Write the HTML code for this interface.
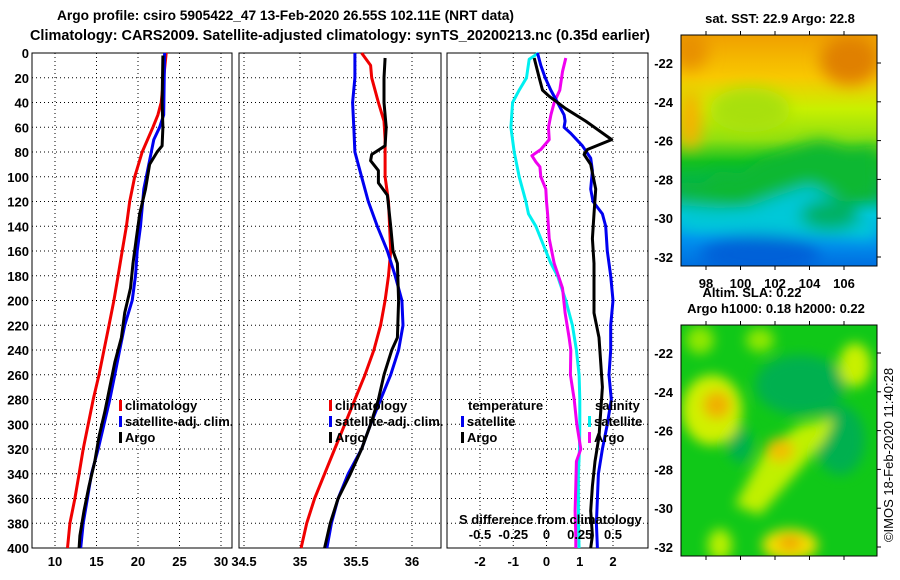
<!DOCTYPE html>
<html><head><meta charset="utf-8">
<style>
html,body{margin:0;padding:0;background:#fff;}
svg{display:block;font-family:"Liberation Sans",sans-serif;}
.b{font-weight:bold;font-size:13px;}
</style></head>
<body>
<svg id="chart" width="900" height="580" viewBox="0 0 900 580">
<defs>
<filter id="blur6" x="-50%" y="-50%" width="200%" height="200%"><feGaussianBlur stdDeviation="6"/></filter>
<filter id="blur9" x="-50%" y="-50%" width="200%" height="200%"><feGaussianBlur stdDeviation="8"/></filter>
<linearGradient id="sstGrad" x1="0" y1="0" x2="0" y2="1">
<stop offset="0" stop-color="#f0a000"/><stop offset="0.18" stop-color="#f8c800"/>
<stop offset="0.32" stop-color="#c8f000"/><stop offset="0.45" stop-color="#90e010"/>
<stop offset="0.55" stop-color="#10c020"/><stop offset="0.68" stop-color="#00b060"/>
<stop offset="0.78" stop-color="#00c8e0"/><stop offset="0.88" stop-color="#0090f0"/>
<stop offset="1" stop-color="#0070e0"/></linearGradient>
<clipPath id="clipM1"><rect x="681" y="35" width="196" height="231"/></clipPath>
<clipPath id="clipM2"><rect x="681" y="325" width="196" height="231"/></clipPath>
</defs>
<text x="57" y="20" textLength="457" lengthAdjust="spacingAndGlyphs" font-size="14" font-weight="bold">Argo profile: csiro 5905422_47 13-Feb-2020 26.55S 102.11E (NRT data)</text>
<text x="30" y="40" textLength="620" lengthAdjust="spacingAndGlyphs" font-size="14.5" font-weight="bold">Climatology: CARS2009. Satellite-adjusted climatology: synTS_20200213.nc (0.35d earlier)</text>
<g id="panels"></g>
<g id="maps">
<text x="780" y="23" text-anchor="middle" class="b">sat. SST: 22.9 Argo: 22.8</text>
<g clip-path="url(#clipM1)">
<rect x="681" y="35" width="196" height="231" fill="url(#sstGrad)"/>
<g filter="url(#blur9)">
<path d="M681 180 L700 185 L720 170 L740 175 L760 160 L790 150 L820 140 L850 150 L877 145 L877 200 L681 210Z" fill="#10b830"/>
<ellipse cx="850" cy="60" rx="30" ry="25" fill="#e08000"/>
<ellipse cx="690" cy="50" rx="18" ry="20" fill="#e89000"/>
<ellipse cx="750" cy="110" rx="40" ry="22" fill="#a8e010"/>
<path d="M681 205 L740 210 L780 195 L810 185 L877 220 L877 240 L681 230Z" fill="#00c8d8"/>
<ellipse cx="760" cy="255" rx="60" ry="20" fill="#0060d8"/>
<ellipse cx="830" cy="215" rx="30" ry="15" fill="#00b060"/>
<ellipse cx="690" cy="120" rx="12" ry="30" fill="#f8b000"/>
</g></g>
<rect x="681" y="35" width="196" height="231" fill="none" stroke="#000" stroke-width="1"/>
<text x="752" y="297" text-anchor="middle" class="b">Altim. SLA: 0.22</text>
<text x="776" y="313" text-anchor="middle" class="b">Argo h1000: 0.18 h2000: 0.22</text>
<g clip-path="url(#clipM2)">
<rect x="681" y="325" width="196" height="231" fill="#10c818"/>
<g filter="url(#blur6)">
<ellipse cx="800" cy="385" rx="45" ry="30" fill="#00b050"/>
<ellipse cx="840" cy="440" rx="25" ry="35" fill="#00b050"/>
<ellipse cx="740" cy="445" rx="12" ry="18" fill="#00b050"/>
<ellipse cx="712" cy="410" rx="30" ry="35" fill="#d0f000"/>
<ellipse cx="717" cy="405" rx="14" ry="14" fill="#f0b000"/>
<path d="M735 505 L765 450 L800 425 L835 418 L825 440 L795 475 L760 515Z" fill="#c0f000"/>
<ellipse cx="780" cy="450" rx="14" ry="12" fill="#f0c000"/>
<ellipse cx="790" cy="545" rx="28" ry="16" fill="#f0e000"/>
<ellipse cx="790" cy="543" rx="12" ry="7" fill="#f0a000"/>
<ellipse cx="855" cy="365" rx="16" ry="22" fill="#c8f000"/>
<ellipse cx="720" cy="545" rx="12" ry="16" fill="#b8f000"/>
<ellipse cx="700" cy="340" rx="14" ry="14" fill="#90e800"/>
<ellipse cx="760" cy="340" rx="14" ry="12" fill="#90e800"/>
</g></g>
<rect x="681" y="325" width="196" height="231" fill="none" stroke="#000" stroke-width="1"/>
<text transform="translate(893,455) rotate(-90)" text-anchor="middle" font-size="13">©IMOS 18-Feb-2020 11:40:28</text>
</g>
</svg>
<script>
// ---------- data ----------
var depthTicks=[0,20,40,60,80,100,120,140,160,180,200,220,240,260,280,300,320,340,360,380,400];
var tTicks=[10,15,20,25,30];
var sTicks=[34.5,35,35.5,36];
var dTicks=[-2,-1,0,1,2];
var dsTicks=[-0.5,-0.25,0,0.25,0.5];
var latTicks=[-22,-24,-26,-28,-30,-32];
var lonTicks=[98,100,102,104,106];

var tClimD=[0,40,50,60,80,100,120,140,160,180,200,220,240,260,280,300,320,340,360,380,400];
var tClimV=[23.4,22.8,22.4,21.8,20.5,19.6,19.0,18.6,18.1,17.6,17.1,16.5,15.9,15.3,14.6,14.0,13.4,12.9,12.4,11.8,11.5];
var tSatD=[0,50,60,70,80,90,110,140,160,180,200,220,240,260,280,300,320,340,360,380,400];
var tSatV=[23.2,23.1,22.6,21.9,21.6,21.3,20.7,20.3,19.9,19.7,19.3,18.4,17.8,17.2,16.6,15.9,15.2,14.4,13.9,13.4,13.1];
var tArgD=[2,40,60,75,80,90,110,130,150,170,190,210,230,250,270,290,310,330,350,370,390,400];
var tArgV=[23.0,22.9,23.0,22.9,22.3,21.4,20.9,20.2,19.8,19.4,19.1,18.4,18.0,17.2,16.6,16.0,15.3,14.8,14.1,13.5,13.0,12.9];

var sClimD=[0,10,20,40,55,70,100,120,160,180,200,220,240,260,280,300,320,340,360,380,400];
var sClimV=[35.55,35.63,35.64,35.70,35.75,35.76,35.76,35.79,35.81,35.79,35.76,35.72,35.66,35.58,35.49,35.40,35.31,35.22,35.13,35.06,35.01];
var sSatD=[0,20,40,60,80,100,120,140,160,180,200,220,240,260,280,300,320,340,360,380,400];
var sSatV=[35.49,35.49,35.47,35.48,35.49,35.55,35.61,35.69,35.78,35.85,35.91,35.92,35.88,35.81,35.72,35.63,35.55,35.43,35.34,35.28,35.24];
var sArgD=[4,20,40,60,75,82,87,95,105,115,140,160,170,200,230,240,260,280,300,320,340,360,380,400];
var sArgV=[35.76,35.75,35.75,35.77,35.76,35.64,35.63,35.70,35.70,35.78,35.81,35.83,35.87,35.88,35.87,35.82,35.75,35.70,35.63,35.55,35.45,35.34,35.27,35.22];

var dTSatD=[0,10,20,30,40,50,55,60,65,75,85,95,110,120,130,140,160,180,200,220,240,260,280,300,320,340,360,380,400];
var dTSatV=[-0.27,-0.17,-0.04,0.13,0.33,0.53,0.56,0.53,0.73,1.08,1.33,1.38,1.33,1.40,1.68,1.78,1.83,1.93,2.0,1.93,1.93,1.88,1.95,1.83,1.68,1.56,1.53,1.50,1.53];
var dTArgD=[4,20,30,35,45,55,70,78,82,90,110,130,150,170,190,210,230,250,270,290,310,330,350,370,390,400];
var dTArgV=[-0.37,-0.22,-0.12,0.08,0.58,1.18,1.96,1.23,1.13,1.33,1.48,1.43,1.38,1.43,1.43,1.43,1.58,1.63,1.68,1.63,1.58,1.46,1.38,1.33,1.38,1.33];
var dSSatD=[0,5,20,30,40,60,80,100,120,130,140,160,170,180,200,220,240,260,280,300,320,340,360,380,400];
var dSSatV=[-0.06,-0.13,-0.15,-0.205,-0.255,-0.268,-0.243,-0.205,-0.155,-0.135,-0.08,-0.005,0.033,0.083,0.145,0.195,0.225,0.245,0.25,0.25,0.248,0.24,0.24,0.24,0.245];
var dSArgD=[4,15,30,40,50,60,70,78,83,88,92,100,110,120,130,150,170,190,210,230,240,260,280,300,320,330,350,370,390,400];
var dSArgV=[0.145,0.12,0.10,0.058,0.033,0.015,0.02,-0.043,-0.11,-0.08,-0.05,-0.043,-0.005,0,0.008,0.02,0.058,0.12,0.14,0.17,0.183,0.18,0.208,0.228,0.258,0.225,0.22,0.215,0.22,0.22];

// ---------- layout ----------
var NS='http://www.w3.org/2000/svg';
var TOP=53,BOT=548;
function yD(d){return TOP+(BOT-TOP)*d/400;}
function mk(tag,attrs,parent){var e=document.createElementNS(NS,tag);for(var k in attrs)e.setAttribute(k,attrs[k]);parent.appendChild(e);return e;}
function lin(x0,x1,v0,v1){return function(v){return x0+(v-v0)*(x1-x0)/(v1-v0);};}
var root=document.getElementById('panels');

var panels=[
 {name:'temperature-panel',L:32,R:232,x:lin(55,221,10,30),ticks:tTicks},
 {name:'salinity-panel',L:239,R:441,x:lin(244,412,34.5,36),ticks:sTicks},
 {name:'difference-panel',L:447,R:648,x:lin(480,613,-2,2),ticks:dTicks}
];
panels.forEach(function(p,i){
 var g=mk('g',{},root);
 
 
 depthTicks.forEach(function(d){
  var l=mk('line',{x1:p.L,x2:p.R,y1:yD(d),y2:yD(d),stroke:'#000','stroke-width':1,'stroke-dasharray':'1,3'},g);
  
  
  if(i===0){
   var t=mk('text',{x:p.L-3,y:yD(d)+5,'text-anchor':'end','class':'b'},g);
   t.textContent=d;
   
   
  }
 });
 p.ticks.forEach(function(v){
  var X=p.x(v);
  var l=mk('line',{x1:X,x2:X,y1:TOP,y2:BOT,stroke:'#000','stroke-width':1,'stroke-dasharray':'1,3'},g);
  
  
  var t=mk('text',{x:X,y:566,'text-anchor':'middle','class':'b'},g);
  t.textContent=String(v);
  
  
 });
 var fr=mk('rect',{x:p.L,y:TOP,width:p.R-p.L,height:BOT-TOP,fill:'none',stroke:'#000','stroke-width':1},g);
 
 
 p.g=g;
});

function drawLine(g,xf,D,V,color,name){
 var pts=D.map(function(d,k){return xf(V[k]).toFixed(1)+','+yD(d).toFixed(1);}).join(' ');
 var e=mk('polyline',{points:pts,fill:'none',stroke:color,'stroke-width':3,'stroke-linejoin':'round'},g);
 
 
}
drawLine(panels[0].g,panels[0].x,tClimD,tClimV,'#f00000','temp-climatology-line');
drawLine(panels[0].g,panels[0].x,tSatD,tSatV,'#0000f0','temp-satellite-line');
drawLine(panels[0].g,panels[0].x,tArgD,tArgV,'#000','temp-argo-line');
drawLine(panels[1].g,panels[1].x,sClimD,sClimV,'#f00000','sal-climatology-line');
drawLine(panels[1].g,panels[1].x,sSatD,sSatV,'#0000f0','sal-satellite-line');
drawLine(panels[1].g,panels[1].x,sArgD,sArgV,'#000','sal-argo-line');
var xS=lin(480,613,-0.5,0.5);
drawLine(panels[2].g,xS,dSSatD,dSSatV,'#00f0f0','dS-satellite-line');
drawLine(panels[2].g,xS,dSArgD,dSArgV,'#f000f0','dS-argo-line');
drawLine(panels[2].g,panels[2].x,dTSatD,dTSatV,'#0000f0','dT-satellite-line');
drawLine(panels[2].g,panels[2].x,dTArgD,dTArgV,'#000','dT-argo-line');

function legendItem(g,x,y,color,label,name){
 var r=mk('rect',{x:x,y:y-10,width:3,height:11,fill:color},g);
 
 
 var t=mk('text',{x:x+6,y:y,'class':'b'},g);
 t.textContent=label;
 
 
}
[[panels[0].g,119],[panels[1].g,329]].forEach(function(a){
 legendItem(a[0],a[1],410,'#f00000','climatology','legend-climatology');
 legendItem(a[0],a[1],426,'#0000f0','satellite-adj. clim.','legend-satellite-adj');
 legendItem(a[0],a[1],442,'#000','Argo','legend-argo');
});
var g3=panels[2].g;
var tt=mk('text',{x:468,y:410,'class':'b'},g3);tt.textContent='temperature';


legendItem(g3,461,426,'#0000f0','satellite','legend-temp-satellite');
legendItem(g3,461,442,'#000','Argo','legend-temp-argo');
var st=mk('text',{x:595,y:410,'class':'b'},g3);st.textContent='salinity';


legendItem(g3,588,426,'#00f0f0','satellite','legend-sal-satellite');
legendItem(g3,588,442,'#f000f0','Argo','legend-sal-argo');
var sd=mk('text',{x:459,y:524,'class':'b'},g3);sd.textContent='S difference from climatology';


dsTicks.forEach(function(v){
 var t=mk('text',{x:xS(v),y:539,'text-anchor':'middle','class':'b'},g3);
 t.textContent=String(v);
 
 
});

// map axes
var mg=document.getElementById('maps');
var lonX=lin(706,844,98,106);
function mapAxes(top,lat22,lat32,showLon){
 var ly=lin(lat22,lat32,-22,-32);
 latTicks.forEach(function(v){
  var t=mk('text',{x:673,y:ly(v)+5,'text-anchor':'end','class':'b'},mg);
  t.textContent=String(v);
  
  
  var l=mk('line',{x1:877,x2:881,y1:ly(v),y2:ly(v),stroke:'#000'},mg);
  
  
 });
 lonTicks.forEach(function(v){
  var l=mk('line',{x1:lonX(v),x2:lonX(v),y1:top-4,y2:top,stroke:'#000'},mg);
  
  
  var l2=mk('line',{x1:lonX(v),x2:lonX(v),y1:top+231,y2:top+235,stroke:'#000'},mg);
  
  
  if(showLon){
   var t=mk('text',{x:lonX(v),y:288,'text-anchor':'middle','class':'b'},mg);
   t.textContent=String(v);
   
   
  }
 });
}
mapAxes(35,63,257,true);
mapAxes(325,353,547,false);
</script>
</body></html>
